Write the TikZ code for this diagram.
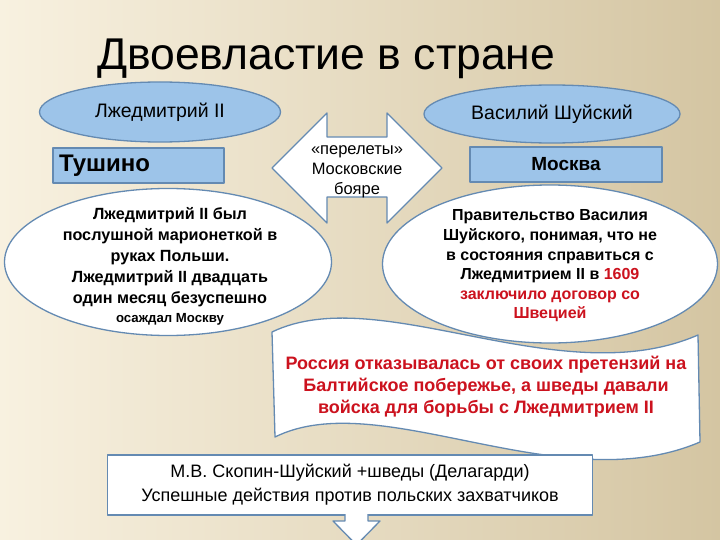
\documentclass[tikz,border=0pt]{standalone}
\usepackage{fontspec}
\setmainfont{Liberation Sans}
\usetikzlibrary{shapes.geometric}

\definecolor{fonA}{RGB}{248,241,224}
\definecolor{fonB}{RGB}{236,226,200}
\definecolor{fonC}{RGB}{212,197,162}
\definecolor{bord}{RGB}{100,138,178}
\definecolor{bleu}{RGB}{157,196,233}
\definecolor{rouge}{RGB}{204,18,30}

\tikzset{
  trait/.style={draw=bord, line width=1.3pt, line join=round},
  ovale/.style={trait, ellipse, fill=bleu, inner sep=0pt,
    font=\fontsize{19.5}{22}\selectfont},
  ville/.style={trait, fill=bleu, inner sep=0pt,
    font=\bfseries\fontsize{19}{22}\selectfont},
  bulle/.style={trait, ellipse, fill=white, inner sep=0pt},
  texte/.style={align=center, inner sep=0pt,
    font=\bfseries\fontsize{16.2}{21}\selectfont},
}

\begin{document}
\begin{tikzpicture}[x=1pt,y=-1pt]

% Fond
\useasboundingbox (0,0) rectangle (720,540);
\shade[left color=fonA, middle color=fonB, right color=fonC] (0,0) rectangle (720,540);

% Titre
\node[anchor=base west, inner sep=0pt, font=\fontsize{44.5}{50}\selectfont]
  (titre) at (97,70) {Двоевластие в стране};

% Les deux pouvoirs
\node[ovale, minimum width=241pt, minimum height=60pt] (lzhed) at (160,112) {Лжедмитрий II};
\node[ovale, minimum width=256pt, minimum height=58pt] (shuisky) at (552,114) {Василий Шуйский};

\node[ville, minimum width=171pt, minimum height=35pt, text width=159pt,
  align=left, font=\bfseries\fontsize{24}{26}\selectfont] (tushino) at (138.5,165.5) {Тушино};
\node[ville, minimum width=192pt, minimum height=35pt] (moskva) at (566,164.5) {Москва};

% Fleche double
\draw[trait, fill=white] (272,168) -- (327,113) -- (327,137) -- (387,137) -- (387,113)
  -- (442,168) -- (387,223) -- (387,197) -- (327,197) -- (327,223) -- cycle;
\node[align=center, inner sep=0pt, font=\fontsize{16.5}{20}\selectfont]
  (boyare) at (357,172) {«перелеты»\\Московские\\бояре};

% Bulles
\node[bulle, minimum width=327pt, minimum height=147pt] (bulleG) at (168,262) {};
\node[texte] (texteG) at (170,266) {Лжедмитрий II был\\послушной марионеткой в\\руках Польши.\\Лжедмитрий II двадцать\\один месяц безуспешно\\[-2pt]{\fontsize{13.2}{14}\selectfont осаждал Москву}};

\node[bulle, minimum width=335pt, minimum height=158pt] (bulleD) at (550,264) {};
\node[texte, font=\bfseries\fontsize{16}{19.6}\selectfont] (texteD) at (550,266)
  {Правительство Василия\\Шуйского, понимая, что не\\в состояния справиться с\\Лжедмитрием II в \textcolor{rouge}{1609}\\\textcolor{rouge}{заключило договор со}\\\textcolor{rouge}{Швецией}};

% Banniere
\draw[trait, fill=white] (272,332) .. controls (380,280) and (560,395) .. (698,335)
  -- (700,442) .. controls (560,502) and (380,385) .. (275,437) -- cycle;
\node[texte, text=rouge, font=\bfseries\fontsize{18}{22}\selectfont]
  (traite) at (486,387) {Россия отказывалась от своих претензий на\\Балтийское побережье, а шведы давали\\войска для борьбы с Лжедмитрием II};

% Skopine
\node[trait, fill=white, minimum width=485pt, minimum height=60pt, align=center,
  inner sep=0pt, font=\fontsize{18}{24}\selectfont] (skopin) at (350,485)
  {М.В. Скопин-Шуйский +шведы (Делагарди)\\Успешные действия против польских захватчиков};
\fill[white] (345,513) rectangle (368,522);
\draw[trait, fill=white] (345,514) -- (345,521) -- (333,521) -- (356.5,545)
  -- (380,521) -- (368,521) -- (368,514);

\end{tikzpicture}
\end{document}
